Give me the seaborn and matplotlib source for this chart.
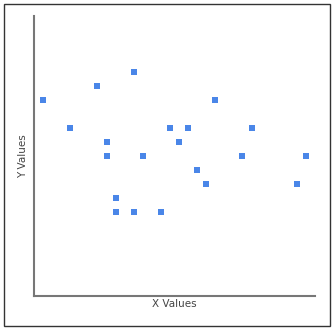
import matplotlib
matplotlib.use('Agg')
import matplotlib.pyplot as plt
import seaborn as sns
import pandas as pd
from matplotlib.patches import Rectangle

# values
x_values = [1, 4, 7, 8, 8, 9, 9, 11, 11, 12, 14, 15, 16, 17, 18, 19, 20, 23, 24, 29, 30]
y_values = [14, 12, 15, 11, 10, 7, 6, 16, 6, 10, 6, 12, 11, 12, 9, 8, 14, 10, 12, 8, 10]

data = pd.DataFrame({'x': x_values, 'y': y_values})

sns.set_style('white')
plt.rcParams['font.family'] = ['DejaVu Sans']

fig = plt.figure(figsize=(3.34, 3.31), dpi=100)
ax = fig.add_axes([34 / 334, 35 / 331, 281 / 334, 280 / 331])

sns.scatterplot(x='x', y='y', data=data, marker='s', s=22, color='#4a86e8',
                linewidth=0, ax=ax)

ax.set_xlim(0, 31)
ax.set_ylim(0, 20)
ax.set_xticks([])
ax.set_yticks([])
ax.set_xlabel('X Values', fontsize=7.5, color='#444444', labelpad=2)
ax.set_ylabel('Y Values', fontsize=7.5, color='#444444', labelpad=4)

for side in ['top', 'right']:
    ax.spines[side].set_visible(False)
for side in ['left', 'bottom']:
    ax.spines[side].set_color('#777777')
    ax.spines[side].set_linewidth(1.5)

# outer frame round the whole chart
fig.patches.append(Rectangle((4 / 334, 5 / 331), 326 / 334, 322 / 331,
                             transform=fig.transFigure, fill=False,
                             edgecolor='#333333', linewidth=1))

fig.savefig('out.png', dpi=100)
